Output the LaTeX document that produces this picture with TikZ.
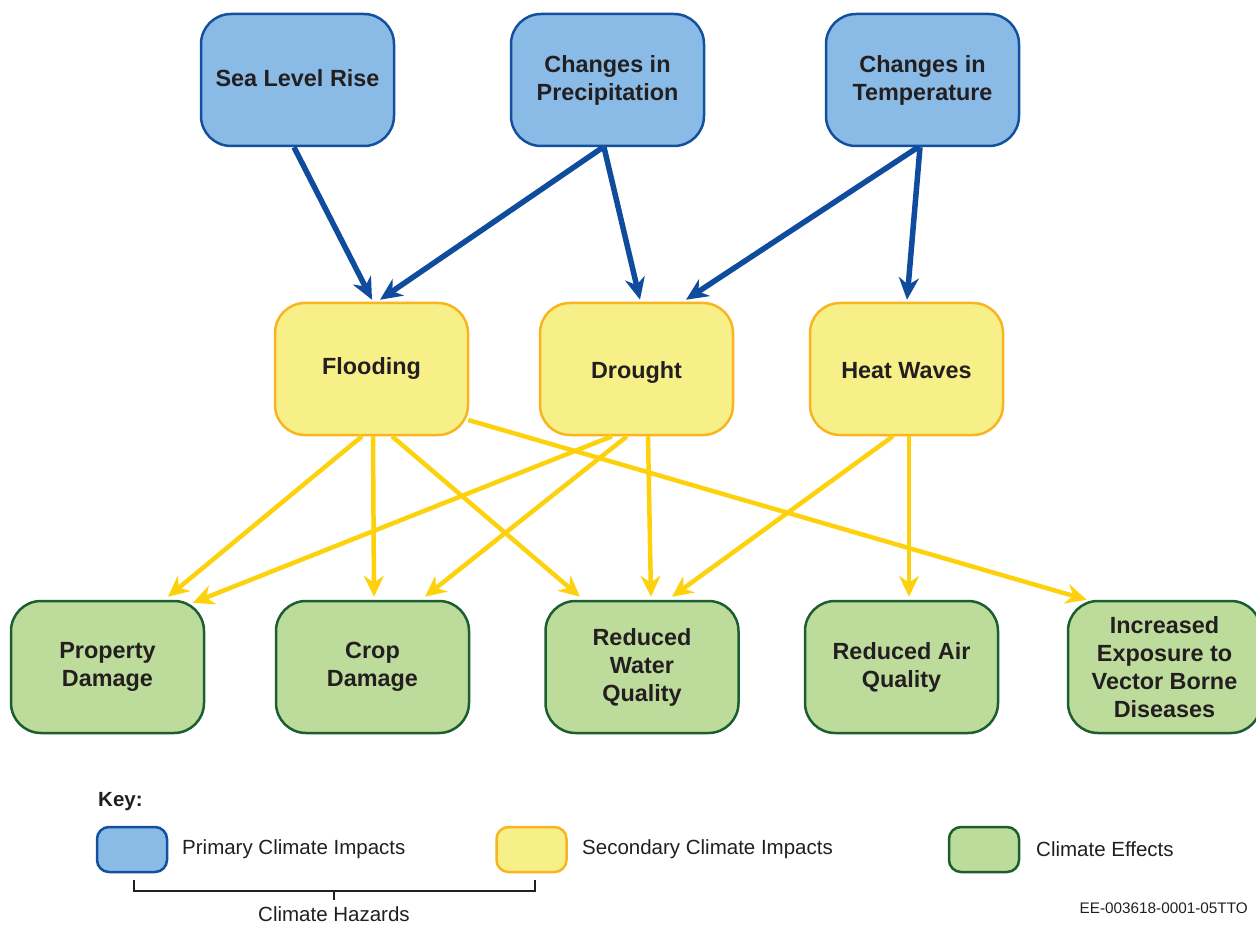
\documentclass[tikz,border=0pt]{standalone}
\usepackage{fontspec}
\setmainfont{Liberation Sans}
\usetikzlibrary{arrows.meta,calc}
\definecolor{bluefill}{HTML}{89BBE6}
\definecolor{blueline}{HTML}{1350A0}
\definecolor{bluearrow}{HTML}{0F4C9E}
\definecolor{yelfill}{HTML}{F7EF88}
\definecolor{yelline}{HTML}{F8B51F}
\definecolor{yelarrow}{HTML}{FDD20C}
\definecolor{grnfill}{HTML}{BDDB9A}
\definecolor{grnline}{HTML}{1B5E30}
\definecolor{txt}{HTML}{231F20}
\newcommand{\shiftdown}[2]{\raisebox{-#1}[\height][\depth]{#2}}
\begin{document}
\begin{tikzpicture}[x=1pt,y=-1pt,
  box/.style={rounded corners=30pt, line width=2.5pt, minimum width=193pt, minimum height=132pt,
    align=center, text=txt, font=\fontsize{23.4}{28}\selectfont\bfseries, inner sep=0pt},
  prim/.style={box, draw=blueline, fill=bluefill},
  sec/.style={box, draw=yelline, fill=yelfill},
  eff/.style={box, draw=grnline, fill=grnfill},
  keybox/.style={rounded corners=12pt, line width=2.5pt, minimum width=70pt, minimum height=45pt, inner sep=0pt},
  keytext/.style={anchor=west, text=txt, font=\fontsize{20.5}{24}\selectfont, inner sep=0pt},
  barrow/.style={draw=bluearrow, line width=5.5pt, -{Stealth[length=22pt, width=20pt, inset=7pt]}},
  yarrow/.style={draw=yelarrow, line width=4.5pt, -{Stealth[length=21pt, width=20pt, inset=7pt]}}
]
\useasboundingbox (0,0) rectangle (1256,925);
% primary
\node[prim] (slr) at (297.5,80) {\shiftdown{-1.5pt}{Sea Level Rise}};
\node[prim] (prec) at (607.5,80) {Changes in\\Precipitation};
\node[prim] (temp) at (922.5,80) {Changes in\\Temperature};
% secondary
\node[sec] (flood) at (371.5,369) {Flooding};
\node[sec] (drought) at (636.5,369) {\shiftdown{4pt}{Drought}};
\node[sec] (heat) at (906.5,369) {\shiftdown{2pt}{Heat Waves}};
% effects
\node[eff] (prop) at (107.5,667) {Property\\Damage};
\node[eff] (crop) at (372.5,667) {Crop\\Damage};
\node[eff] (rwq) at (642,667) {Reduced\\Water\\Quality};
\node[eff] (raq) at (901.5,667) {Reduced Air\\Quality};
\node[eff] (inc) at (1164.5,667) {Increased\\Exposure to\\Vector Borne\\Diseases};
% blue arrows
\draw[barrow] ($(slr.south)+(-3.5,0)$) -- ($(flood.north)+(0.5,-2)$);
\draw[barrow] ($(prec.south)+(-4.5,0)$) -- ($(flood.north)+(8.5,-2)$);
\draw[barrow] ($(prec.south)+(-3.5,0)$) -- ($(drought.north)+(3.5,-2)$);
\draw[barrow] ($(temp.south)+(-4.5,0)$) -- ($(drought.north)+(49.5,-2)$);
\draw[barrow] ($(temp.south)+(-2.5,0)$) -- ($(heat.north)+(0.5,-2)$);
% yellow arrows
\draw[yarrow] ($(flood.south)+(-9.5,0)$) -- ($(prop.north)+(60.5,-3)$);
\draw[yarrow] ($(flood.south)+(1.5,0)$) -- ($(crop.north)+(1.5,-3)$);
\draw[yarrow] ($(flood.south)+(20.5,0)$) -- ($(rwq.north)+(-62,-3)$);
\draw[yarrow] ($(flood.east)+(-1,51)$) -- ($(inc.north west)+(20,0)$);
\draw[yarrow] ($(drought.south)+(-24.5,0)$) -- ($(prop.north)+(85.5,3)$);
\draw[yarrow] ($(drought.south)+(-9.5,0)$) -- ($(crop.north)+(52.5,-3)$);
\draw[yarrow] ($(drought.south)+(11.5,0)$) -- ($(rwq.north)+(9,-3)$);
\draw[yarrow] ($(heat.south)+(-13.5,0)$) -- ($(rwq.north)+(30,-3)$);
\draw[yarrow] ($(heat.south)+(2.5,0)$) -- ($(raq.north)+(7.5,-3)$);
% key
\node[anchor=west, text=txt, font=\fontsize{20.5}{24}\selectfont\bfseries, inner sep=0pt] (key) at (98,802) {Key:};
\node[keybox, draw=blueline, fill=bluefill] (kb) at (132,849.5) {};
\node[keybox, draw=yelline, fill=yelfill] (ky) at (531.5,849.5) {};
\node[keybox, draw=grnline, fill=grnfill] (kg) at (984,849.5) {};
\node[keytext] (kbt) at (182,849) {Primary Climate Impacts};
\node[keytext] (kyt) at (582,849) {Secondary Climate Impacts};
\node[keytext] (kgt) at (1036,849) {Climate Effects};
\coordinate (b1) at (134,880);
\coordinate (b2) at (535,880);
\coordinate (bm) at (334,891);
\draw[txt, line width=2.5pt] (b1) |- (bm) -| (b2);
\draw[txt, line width=2.5pt] (bm) -- ++(0,9) coordinate (bt);
\node[text=txt, font=\fontsize{20.5}{24}\selectfont, inner sep=0pt] (haz) at (334,914) {Climate Hazards};
\node[anchor=east, text=txt, font=\fontsize{15.3}{18}\selectfont, inner sep=0pt] (code) at (1248,908) {EE-003618-0001-05TTO};
\end{tikzpicture}
\end{document}
